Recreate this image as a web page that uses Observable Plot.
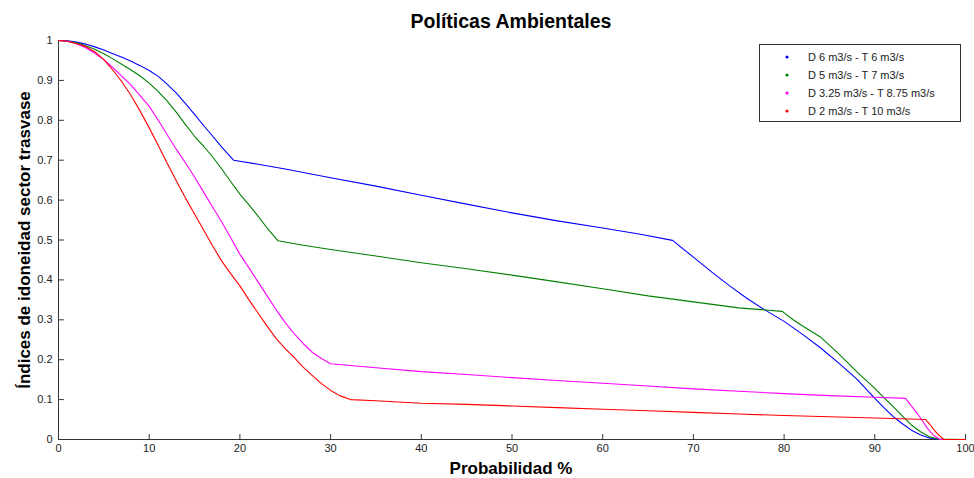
<!DOCTYPE html>
<html>
<head>
<meta charset="utf-8">
<script src="https://cdn.jsdelivr.net/npm/d3@7"></script>
<script src="https://cdn.jsdelivr.net/npm/@observablehq/plot@0.6"></script>
<style>
  body { margin: 0; background: #fff; }
  #chart svg { font-family: "Liberation Sans", Arial, Helvetica, sans-serif; display: block; }
</style>
</head>
<body>
<div id="chart"></div>
<script>
const chartTitle = "Políticas Ambientales";
const xLabel = "Probabilidad %";
const yLabel = "Índices de idoneidad sector trasvase";
const seriesNames = ["D 6 m3/s - T 6 m3/s", "D 5 m3/s - T 7 m3/s", "D 3.25 m3/s - T 8.75 m3/s", "D 2 m3/s - T 10 m3/s"];
const seriesColors = ["#0000ff", "#008000", "#ff00ff", "#ff0000"];

const xTicks = [0, 10, 20, 30, 40, 50, 60, 70, 80, 90, 100];
const yTicks = [0, 0.1, 0.2, 0.3, 0.4, 0.5, 0.6, 0.7, 0.8, 0.9, 1];
const yTickLabels = ["0", "0.1", "0.2", "0.3", "0.4", "0.5", "0.6", "0.7", "0.8", "0.9", "1"];

// Series 1 (blue)
const blueX = [0,1,2,3,4,5,6,7,8,9,10,11,12,13,14,15,16,17,18,19.3,22,25,30,35,40,45,50,55,60,64,67.7,70,72,74,76,78,80,82,84,86,88,90,91,92,93,94,95,96,97,100];
const blueY = [1,0.999,0.996,0.991,0.984,0.976,0.967,0.958,0.948,0.937,0.925,0.91,0.89,0.868,0.842,0.815,0.787,0.76,0.733,0.70,0.69,0.678,0.656,0.635,0.612,0.59,0.568,0.548,0.53,0.515,0.499,0.457,0.42,0.385,0.352,0.323,0.296,0.264,0.23,0.192,0.152,0.103,0.08,0.058,0.04,0.024,0.012,0.004,0,0];

// Series 2 (green)
const greenX = [0,1,2,3,4,5,6,7,8,9,10,11,12,13,14,15,16,17,18,19,20,21,22,23,24.2,27,30,35,40,45,50,55,60,65,70,75,79.8,81,82,84,86,88,90,91,92,93,94,95,96,97,100];
const greenY = [1,0.998,0.994,0.987,0.978,0.967,0.954,0.94,0.926,0.911,0.893,0.872,0.848,0.82,0.789,0.76,0.735,0.708,0.678,0.646,0.615,0.588,0.56,0.53,0.498,0.487,0.476,0.46,0.443,0.428,0.412,0.395,0.378,0.36,0.345,0.33,0.321,0.30,0.285,0.257,0.215,0.17,0.128,0.105,0.083,0.06,0.037,0.02,0.007,0.001,0];

// Series 3 (magenta)
const magentaX = [0,1,2,3,4,5,6,7,8,9,10,11,12,13,14,15,16,17,18,19,20,21,22,23,24,25,26,27,28,29,30,35,40,45,50,55,60,65,70,75,80,85,90,93.4,94,94.7,95.3,95.8,96.5,97.2,100];
const magentaY = [1,0.998,0.992,0.982,0.968,0.952,0.932,0.91,0.888,0.862,0.835,0.8,0.763,0.727,0.693,0.658,0.62,0.582,0.545,0.505,0.464,0.43,0.395,0.36,0.325,0.293,0.265,0.24,0.218,0.203,0.19,0.18,0.17,0.163,0.155,0.148,0.141,0.134,0.127,0.121,0.115,0.11,0.106,0.103,0.085,0.065,0.045,0.028,0.01,0,0];

// Series 4 (red)
const redX = [0,1,2,3,4,5,6,7,8,9,10,11,12,13,14,15,16,17,18,19,20,21,22,23,24,25,26,27,28,29,30,31,32.2,35,40,45,50,55,60,65,70,75,80,85,90,95.6,96,96.5,97,97.6,100];
const redY = [1,0.998,0.992,0.985,0.972,0.952,0.926,0.896,0.862,0.823,0.781,0.737,0.692,0.648,0.605,0.565,0.525,0.485,0.447,0.415,0.385,0.35,0.317,0.284,0.253,0.228,0.205,0.181,0.16,0.14,0.123,0.11,0.10,0.097,0.091,0.088,0.084,0.08,0.076,0.072,0.068,0.064,0.06,0.057,0.054,0.05,0.04,0.025,0.012,0,0];

const seriesX = [blueX, greenX, magentaX, redX];
const seriesY = [blueY, greenY, magentaY, redY];

const rows = [];
seriesNames.forEach((name, i) => {
  seriesX[i].forEach((x, j) => rows.push({series: name, x, y: seriesY[i][j]}));
});

const axisColor = "#333";
const textColor = "#222";
const tickShape = {draw(context, l) { context.moveTo(0, 0); context.lineTo(0, -l); }};

const plot = Plot.plot({
  width: 974,
  height: 478,
  marginLeft: 58,
  marginRight: 9,
  marginTop: 40,
  marginBottom: 39,
  style: {fontFamily: '"Liberation Sans", Arial, sans-serif', fontSize: "11px", color: textColor, background: "#fff"},
  x: {domain: [0, 100]},
  y: {domain: [0, 1]},
  color: {domain: seriesNames, range: seriesColors},
  marks: [
    Plot.axisX(xTicks, {tickSize: 0, tickPadding: 5, fill: textColor, label: null}),
    Plot.axisY(yTicks, {tickSize: 0, tickPadding: 6, fill: textColor, label: null,
      tickFormat: (d) => yTickLabels[yTicks.indexOf(d)]}),
    Plot.vector(xTicks, {x: (d) => d, frameAnchor: "bottom", length: 5, rotate: 0, anchor: "start", shape: tickShape, stroke: axisColor, strokeWidth: 1}),
    Plot.vector(yTicks, {y: (d) => d, frameAnchor: "left", length: 5, rotate: 90, anchor: "start", shape: tickShape, stroke: axisColor, strokeWidth: 1}),
    Plot.ruleX([0], {stroke: axisColor}),
    Plot.ruleY([0], {stroke: axisColor}),
    Plot.line(rows, {x: "x", y: "y", z: "series", stroke: "series", strokeWidth: 1.1})
  ]
});

document.getElementById("chart").appendChild(plot);

const svg = d3.select(plot);
const ff = '"Liberation Sans", Arial, sans-serif';

svg.append("text")
  .attr("x", 511).attr("y", 28)
  .attr("text-anchor", "middle")
  .attr("font-family", ff).attr("font-size", 19.5).attr("font-weight", "bold").attr("fill", "#000")
  .text(chartTitle);

svg.append("text")
  .attr("x", 511).attr("y", 474)
  .attr("text-anchor", "middle")
  .attr("font-family", ff).attr("font-size", 17).attr("font-weight", "bold").attr("fill", "#000")
  .text(xLabel);

svg.append("text")
  .attr("transform", "translate(30,240) rotate(-90)")
  .attr("text-anchor", "middle")
  .attr("font-family", ff).attr("font-size", 17).attr("font-weight", "bold").attr("fill", "#000")
  .text(yLabel);

// Legend
const lg = svg.append("g").attr("class", "legend");
lg.append("rect")
  .attr("x", 759.5).attr("y", 44.5).attr("width", 201).attr("height", 77)
  .attr("fill", "#fff").attr("stroke", "#333").attr("stroke-width", 1);
seriesNames.forEach((name, i) => {
  const yy = 57 + i * 18;
  lg.append("circle").attr("cx", 787).attr("cy", yy).attr("r", 1.6).attr("fill", seriesColors[i]);
  lg.append("text").attr("x", 808).attr("y", yy).attr("dy", "0.35em")
    .attr("text-anchor", "start")
    .attr("font-family", ff).attr("font-size", 11).attr("fill", textColor)
    .text(name);
});
</script>
</body>
</html>
